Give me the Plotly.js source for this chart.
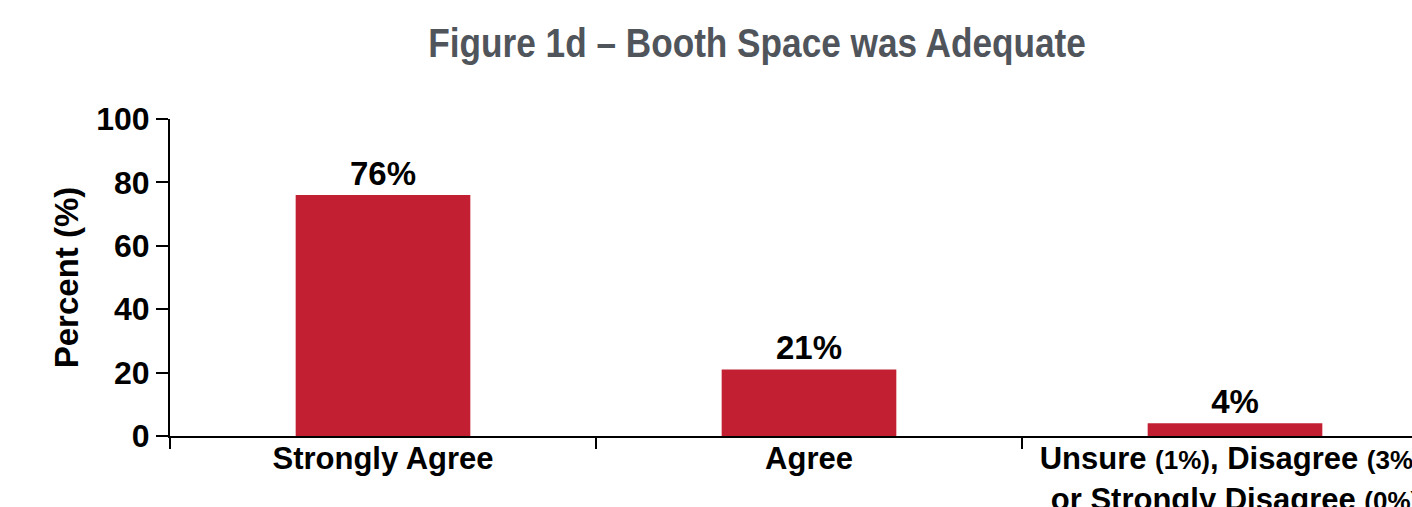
<!DOCTYPE html>
<html>
<head>
<meta charset="utf-8">
<script src="https://cdn.plot.ly/plotly-3.0.1.min.js"></script>
<style>
html,body{margin:0;padding:0;overflow:hidden;background:#fff;}
#chart{width:1714px;height:507px;}
</style>
</head>
<body>
<div id="chart"></div>
<script>
var categories = [
  "Strongly Agree",
  "Agree",
  "Unsure <span style='font-size:26px'>(1%)</span>, Disagree <span style='font-size:26px'>(3%)</span>,<br>or Strongly Disagree <span style='font-size:26px'>(0%)</span>"
];
var values = [76, 21, 4];
var valueLabels = ["76%", "21%", "4%"];
var yTicks = [0, 20, 40, 60, 80, 100];

var F = "Liberation Sans, Arial, sans-serif";
var trace = {
  type: "bar",
  x: categories,
  y: values,
  text: valueLabels,
  textposition: "outside",
  cliponaxis: false,
  textfont: {family: F, size: 33, color: "#000", weight: "bold"},
  marker: {color: "#C22032"},
  width: 0.41,
  hoverinfo: "none"
};
var layout = {
  width: 1714, height: 507,
  margin: {l: 170, r: 266, t: 119, b: 71},
  paper_bgcolor: "#fff", plot_bgcolor: "#fff",
  showlegend: false,
  title: {
    text: "<b>Figure 1d – Booth Space was Adequate</b>",
    font: {family: F, size: 40, color: "#50555C"},
    x: 0.4417, xref: "container", xanchor: "center", y: 0.915, yref: "container", yanchor: "middle"
  },
  xaxis: {
    type: "category",
    tickson: "boundaries",
    ticks: "outside", ticklen: 11, tickwidth: 2, tickcolor: "#000",
    ticklabelstandoff: -6,
    showline: true, linecolor: "#000", linewidth: 2,
    showgrid: false, zeroline: false,
    tickfont: {family: F, size: 31, color: "#000", weight: "bold"},
    fixedrange: true
  },
  yaxis: {
    range: [0, 100],
    tickmode: "array", tickvals: yTicks,
    ticks: "outside", ticklen: 12, tickwidth: 2, tickcolor: "#000",
    showline: true, linecolor: "#000", linewidth: 2,
    showgrid: false, zeroline: false,
    tickfont: {family: F, size: 32, color: "#000", weight: "bold"},
    title: {text: "Percent (%)", font: {family: F, size: 33, color: "#000", weight: "bold"}, standoff: 8},
    fixedrange: true
  }
};
Plotly.newPlot("chart", [trace], layout, {displayModeBar: false, staticPlot: true}).then(function(gd){
  var t = gd.querySelector(".gtitle");
  if (t) {
    var cx = parseFloat(t.getAttribute("x")) || 757;
    t.setAttribute("transform", "translate(" + cx + ",0) scale(0.88,1) translate(" + (-cx) + ",0)");
  }
});
</script>
</body>
</html>
